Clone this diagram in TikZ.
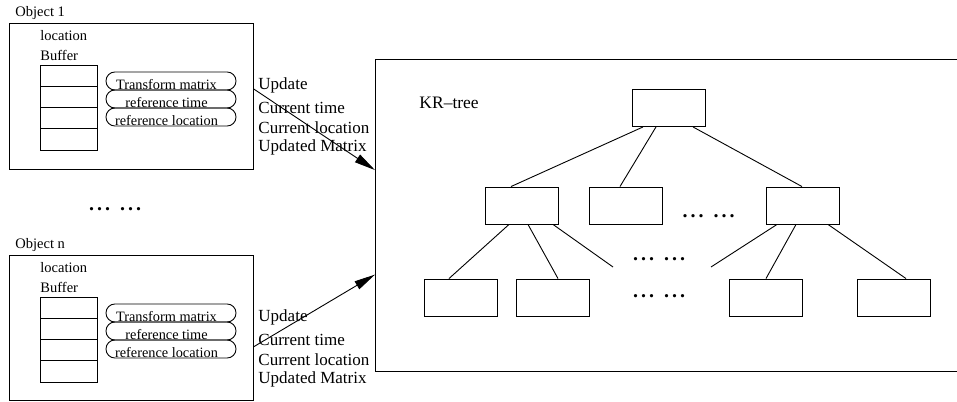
\documentclass[tikz,border=0pt]{standalone}
\usepackage{fontspec}
\setmainfont{Liberation Serif}
\usetikzlibrary{arrows.meta,calc,positioning}

% two groups of bold dots
\newcommand{\moredots}{{\bfseries .\kern3pt.\kern3pt.\hspace{10pt}.\kern3pt.\kern3pt.}}

\begin{document}
\begin{tikzpicture}[x=1pt, y=-1pt, line width=0.9pt,
  objbox/.style={draw, anchor=north west, inner sep=0pt, minimum width=244pt},
  title/.style={anchor=west, inner sep=0pt, font=\fontsize{14.5}{17}\selectfont},
  cell/.style={draw, minimum width=57pt, minimum height=21.25pt, inner sep=0pt},
  oval/.style={draw, rounded corners=8.9pt, minimum width=130pt, inner xsep=0pt, inner ysep=0pt,
    text height=17.3pt, text depth=0.7pt, font=\fontsize{14.3}{16}\selectfont,
    execute at end node=\hspace{9pt}},
  note/.style={anchor=west, inner sep=0pt, font=\fontsize{17}{20}\selectfont},
  feed/.style={-{Triangle[length=21pt,width=9pt]}},
  tnode/.style={draw, minimum width=73pt, minimum height=37pt, inner sep=0pt},
  gap/.style={inner sep=0pt, font=\fontsize{20}{22}\selectfont},
]
\useasboundingbox (0,0) rectangle (957,401);

% Object 1
\node[title] (t1) at (15,13) {Object 1};
\node[objbox, minimum height=146pt] (obj1) at (9,23) {};
\node[title] (loc1) at (40,36) {location};
\node[title] (buf1) at (40,55) {Buffer};
\foreach \i in {1,...,4}
  \node[cell] (c1\i) at (68.5,54.375+21.25*\i) {};
\node[oval] (m1) at (171,81) {Transform matrix};
\node[oval] (r1) at (171,99) {reference time};
\node[oval] (l1) at (171,117) {reference location};

\node[note] (u1) at (258,85) {Update};
\node[note] (ct1) at (258,108) {Current time};
\node[note] (cl1) at (258,128) {Current location};
\node[note] (um1) at (258,147) {Updated Matrix};

\node[gap] (dl) at (115,209) {\moredots};

% Object n
\node[title] (tn) at (15,245) {Object n};
\node[objbox, minimum height=145pt] (objn) at (9,255) {};
\node[title] (locn) at (40,268) {location};
\node[title] (bufn) at (40,287) {Buffer};
\foreach \i in {1,...,4}
  \node[cell] (cn\i) at (68.5,286.375+21.25*\i) {};
\node[oval] (mn) at (171,313) {Transform matrix};
\node[oval] (rn) at (171,331) {reference time};
\node[oval] (ln) at (171,349) {reference location};

\node[note] (un) at (258,317) {Update};
\node[note] (ctn) at (258,340) {Current time};
\node[note] (cln) at (258,360) {Current location};
\node[note] (umn) at (258,379) {Updated Matrix};

% KR-tree
\node[objbox, minimum width=590pt, minimum height=312pt] (kr) at (375,59) {};
\node[note, font=\fontsize{17.5}{20}\selectfont] (krl) at (419,103) {KR--tree};

\node[tnode] (root) at (668.5,108) {};
\node[tnode] (ka) at (521.5,205.5) {};
\node[tnode] (kb) at (625.5,205.5) {};
\node[tnode] (kc) at (802.5,205.5) {};
\node[tnode] (kd) at (461,297.5) {};
\node[tnode] (ke) at (552.5,297.5) {};
\node[tnode] (kf) at (766,297.5) {};
\node[tnode] (kg) at (894,297.5) {};

\node[gap] (d2) at (708.5,216) {\moredots};
\node[gap] (d3) at (659,259) {\moredots};
\node[gap] (d4) at (659,296) {\moredots};

\coordinate (aend) at (613,267);
\coordinate (cend) at (711,267);

\draw ([xshift=-25.5pt]root.south) -- ([xshift=-10.5pt]ka.north);
\draw ([xshift=-12.5pt]root.south) -- ([xshift=-5.5pt]kb.north);
\draw ([xshift=24.5pt]root.south) -- ([xshift=-0.5pt]kc.north);
\draw ([xshift=-12.5pt]ka.south) -- ([xshift=-12pt]kd.north);
\draw ([xshift=6.5pt]ka.south) -- ([xshift=5.5pt]ke.north);
\draw ([xshift=31.5pt]ka.south) -- (aend);
\draw ([xshift=-25.5pt]kc.south) -- (cend);
\draw ([xshift=-6.5pt]kc.south) -- (kf.north);
\draw ([xshift=25.5pt]kc.south) -- ([xshift=12pt]kg.north);

% Updates into the tree
\draw[feed] ($(obj1.north east)!0.45!(obj1.south east)$) -- ($(kr.north west)!0.355!(kr.south west)$);
\draw[feed] ($(objn.north east)!0.628!(objn.south east)$) -- ($(kr.north west)!0.689!(kr.south west)$);

\end{tikzpicture}
\end{document}
